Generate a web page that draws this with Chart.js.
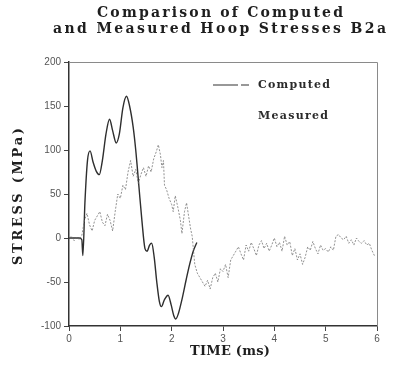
<!DOCTYPE html>
<html>
<head>
<meta charset="utf-8">
<script src="https://cdn.jsdelivr.net/npm/chart.js@4/dist/chart.umd.min.js"></script>
<style>
  html, body { margin: 0; padding: 0; background: #fff; }
  #wrap { width: 394px; height: 380px; position: relative; }
</style>
</head>
<body>
<div id="wrap"><canvas id="chart" width="394" height="380"></canvas></div>
<script>
const titleLines = ['Comparison of Computed', 'and Measured Hoop Stresses B2a'];
const xTitle = 'TIME (ms)';
const yTitle = 'STRESS (MPa)';
const seriesNames = ['Computed', 'Measured'];

const computedTime = [0, 0.1, 0.2, 0.25, 0.27, 0.31, 0.36, 0.41, 0.47, 0.53, 0.59, 0.65, 0.72, 0.79, 0.85, 0.92,
    0.98, 1.05, 1.12, 1.18, 1.25, 1.3, 1.36, 1.42, 1.48, 1.52, 1.57, 1.61, 1.66, 1.71, 1.76, 1.8, 1.86,
    1.93, 1.99, 2.04, 2.08, 2.13, 2.2, 2.28, 2.35, 2.42, 2.49];
const computedStress = [0, 0, 0, -2, -20, 40, 88, 99, 86, 76, 72, 88, 118, 135, 122, 108,
    118, 148, 161, 150, 126, 100, 60, 20, -12, -15, -8, -6, -22, -50, -72, -78, -70,
    -65, -76, -88, -92, -86, -70, -48, -30, -15, -5];

const measuredTime = [0, 0.05, 0.1, 0.15, 0.2, 0.25, 0.3, 0.35, 0.4, 0.45, 0.5, 0.55, 0.6, 0.65, 0.7, 0.75,
    0.8, 0.85, 0.9, 0.95, 1.0, 1.05, 1.1, 1.15, 1.2, 1.25, 1.3, 1.35, 1.4, 1.45, 1.5, 1.55, 1.6, 1.65,
    1.7, 1.74, 1.78, 1.81, 1.84, 1.86, 1.9, 1.95, 2.0, 2.03, 2.07, 2.12, 2.17, 2.2, 2.25, 2.29, 2.33,
    2.37, 2.4, 2.45, 2.5, 2.55, 2.6, 2.65, 2.7, 2.75, 2.8, 2.85, 2.9, 2.95, 3.0, 3.05, 3.1, 3.15, 3.2,
    3.25, 3.3, 3.35, 3.4, 3.45, 3.5, 3.55, 3.6, 3.65, 3.7, 3.75, 3.8, 3.85, 3.9, 3.95, 4.0, 4.05, 4.1,
    4.15, 4.2, 4.25, 4.3, 4.35, 4.4, 4.45, 4.5, 4.55, 4.6, 4.65, 4.7, 4.75, 4.8, 4.85, 4.9, 4.95, 5.0,
    5.05, 5.1, 5.15, 5.2, 5.25, 5.3, 5.35, 5.4, 5.45, 5.5, 5.55, 5.6, 5.65, 5.7, 5.75, 5.8, 5.85, 5.9, 5.95];
const measuredStress = [0, 2, -3, 1, -2, 3, 20, 28, 15, 8, 20, 25, 30, 18, 14, 27,
    20, 8, 30, 50, 45, 60, 55, 75, 88, 70, 78, 62, 72, 80, 70, 82, 75, 90,
    98, 106, 95, 80, 88, 60, 55, 45, 38, 30, 48, 35, 20, 5, 30, 40, 25,
    10, 2, -30, -40, -45, -50, -55, -48, -58, -45, -40, -50, -35, -38, -30, -45, -25, -20,
    -15, -10, -18, -25, -8, -15, -5, -12, -20, -8, -3, -12, -6, -15, -8, 0, -10, -5,
    -15, 2, -8, -4, -20, -12, -25, -18, -30, -22, -10, -14, -4, -12, -18, -8, -14, -12,
    -16, -10, -14, 2, 4, 0, -2, 2, -6, -2, -8, 0, -4, -6, -3, -8, -6, -14, -20];

const xTicks = [0, 1, 2, 3, 4, 5, 6];
const yTicks = [-100, -50, 0, 50, 100, 150, 200];

const toPoints = (xs, ys) => xs.map((x, i) => ({ x, y: ys[i] }));

function spacedText(ctx, text, x, y, width) {
    // stretch letters so the line spans the given width
    ctx.letterSpacing = '0px';
    const w = ctx.measureText(text).width;
    const gap = Math.max(0, (width - w) / (text.length - 1));
    ctx.letterSpacing = gap + 'px';
    ctx.textAlign = 'left';
    ctx.fillText(text, x, y);
    ctx.letterSpacing = '0px';
}

const decorations = {
    id: 'decorations',
    afterDraw(chart) {
        const { ctx, chartArea: a } = chart;
        ctx.save();

        // light frame on top and right
        ctx.strokeStyle = '#8a8a8a';
        ctx.lineWidth = 1;
        ctx.beginPath();
        ctx.moveTo(a.left, a.top + 0.5);
        ctx.lineTo(a.right + 0.5, a.top + 0.5);
        ctx.lineTo(a.right + 0.5, a.bottom);
        ctx.stroke();

        ctx.fillStyle = '#1e1e1e';
        ctx.textBaseline = 'middle';
        ctx.font = 'bold 14px "DejaVu Serif"';
        spacedText(ctx, titleLines[0], 97, 13, 246);
        spacedText(ctx, titleLines[1], 53, 29, 333);

        ctx.font = 'bold 13px "DejaVu Serif"';
        spacedText(ctx, xTitle, 190, 352, 80);

        ctx.save();
        ctx.translate(19, 265);
        ctx.rotate(-Math.PI / 2);
        spacedText(ctx, yTitle, 0, 0, 137);
        ctx.restore();

        // legend
        ctx.strokeStyle = '#333';
        ctx.lineWidth = 1.2;
        ctx.beginPath();
        ctx.moveTo(213, 85); ctx.lineTo(238, 85);
        ctx.moveTo(241, 85); ctx.lineTo(249, 85);
        ctx.stroke();
        ctx.fillStyle = '#2a2a2a';
        ctx.font = 'bold 11px "DejaVu Serif"';
        spacedText(ctx, seriesNames[0], 258, 85, 72);
        spacedText(ctx, seriesNames[1], 258, 116, 70);

        ctx.restore();
    }
};

new Chart(document.getElementById('chart'), {
    type: 'line',
    data: {
        datasets: [
            {
                label: seriesNames[1],
                data: toPoints(measuredTime, measuredStress),
                borderColor: 'rgba(110,110,110,0.75)',
                borderWidth: 1,
                borderDash: [2, 1.5],
                pointRadius: 0,
                tension: 0,
                fill: false,
            },
            {
                label: seriesNames[0],
                data: toPoints(computedTime, computedStress),
                borderColor: '#2e2e2e',
                borderWidth: 1.4,
                pointRadius: 0,
                cubicInterpolationMode: 'monotone',
                fill: false,
            },
        ],
    },
    options: {
        responsive: false,
        animation: false,
        layout: { padding: { top: 62, right: 17, left: 0, bottom: 0 } },
        plugins: {
            legend: { display: false },
            title: { display: false },
            tooltip: { enabled: false },
        },
        scales: {
            x: {
                type: 'linear',
                min: 0,
                max: 6,
                afterBuildTicks: (s) => { s.ticks = xTicks.map((v) => ({ value: v })); },
                afterFit: (s) => { s.height = 54; },
                grid: { drawOnChartArea: false, tickLength: 5, color: '#444' },
                border: { color: '#333', width: 1.5 },
                ticks: { color: '#555', font: { family: 'Liberation Sans', size: 10 }, padding: 2 },
            },
            y: {
                min: -100,
                max: 200,
                afterBuildTicks: (s) => { s.ticks = yTicks.map((v) => ({ value: v })); },
                afterFit: (s) => { s.width = 69; },
                grid: { drawOnChartArea: false, tickLength: 5, color: '#444' },
                border: { color: '#333', width: 1.5 },
                ticks: { color: '#555', font: { family: 'Liberation Sans', size: 10 }, padding: 3 },
            },
        },
    },
    plugins: [decorations],
});
</script>
</body>
</html>
